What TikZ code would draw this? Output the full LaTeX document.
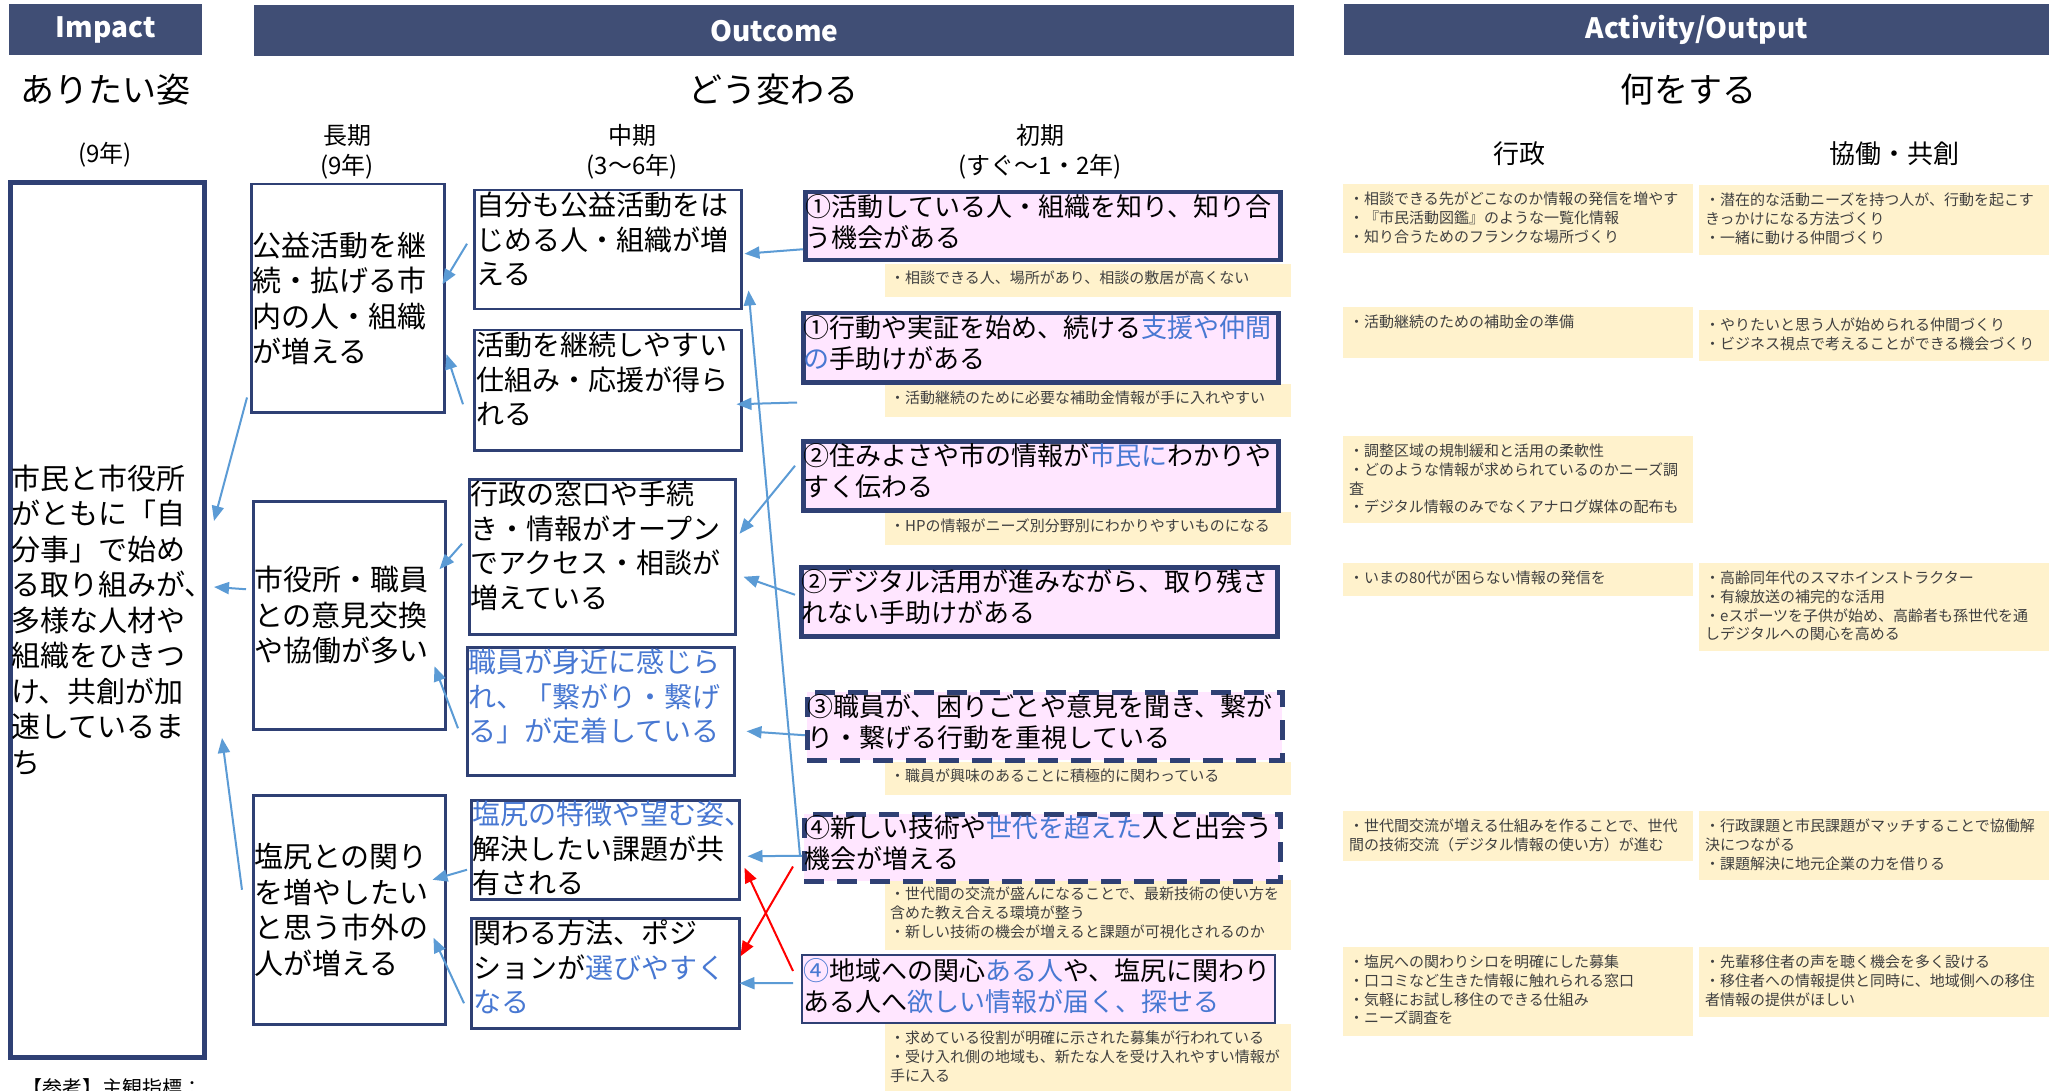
\documentclass[tikz,border=0pt]{standalone}
\usepackage{fontspec}
\setmainfont{Noto Sans CJK JP}
\usetikzlibrary{arrows.meta,calc}
\definecolor{navy}{RGB}{47,64,116}
\definecolor{barnavy}{RGB}{64,78,117}
\definecolor{pinkf}{RGB}{255,230,255}
\definecolor{yell}{RGB}{255,242,204}
\definecolor{tblue}{RGB}{72,120,210}
\definecolor{ablue}{RGB}{91,155,213}
\definecolor{ngray}{RGB}{64,64,64}
\tikzset{
  bar/.style={fill=barnavy, draw=none, text=white, inner sep=0pt, anchor=north west, font=\fontsize{28}{32}\selectfont\bfseries},
  hone/.style={font=\fontsize{34}{40}\selectfont, inner sep=0pt},
  htwo/.style={font=\fontsize{24}{30}\selectfont, inner sep=0pt, align=center},
  hthree/.style={font=\fontsize{26}{30}\selectfont, inner sep=0pt},
  impbox/.style={draw=navy, line width=5pt, inner sep=0pt, anchor=north west},
  lbox/.style={draw=navy, line width=2.5pt, inner sep=0pt, anchor=north west},
  sbox/.style={draw=navy, fill=pinkf, line width=4.5pt, inner sep=0pt, anchor=north west},
  sdash/.style={sbox, dash pattern=on 20pt off 13pt},
  sthin/.style={draw=navy, fill=pinkf, line width=2pt, inner sep=0pt, anchor=north west},
  ybox/.style={fill=yell, draw=none, inner sep=0pt, anchor=north west},
  ltxt/.style={font=\fontsize{29}{35.5}\selectfont, align=left, inner sep=0pt, anchor=west},
  mtxt/.style={font=\fontsize{28}{34.5}\selectfont, align=left, inner sep=0pt, anchor=north west},
  stxt/.style={font=\fontsize{26}{31.5}\selectfont, align=left, inner sep=0pt, anchor=north west},
  ntxt/.style={font=\fontsize{15}{18.7}\selectfont, text=ngray, align=left, inner sep=0pt, anchor=north west},
  arr/.style={draw=ablue, line width=2pt, -{Triangle[length=15pt,width=12pt]}},
  rarr/.style={draw=red, line width=2pt, -{Triangle[length=15pt,width=12pt]}},
}
\begin{document}
\begin{tikzpicture}[x=1pt, y=-1pt]
\useasboundingbox (0,0) rectangle (2062,1091);
\fill[white] (0,0) rectangle (2062,1091);

% header bars
\node[bar, minimum width=193pt, minimum height=51pt] (bimp) at (9,4) {Impact};
\node[bar, minimum width=1040pt, minimum height=51pt] (bout) at (254,5) {Outcome};
\node[bar, minimum width=705pt, minimum height=51pt] (bact) at (1344,4) {Activity/Output};

% headings
\node[hone] (t1) at (105,90) {ありたい姿};
\node[hone] (t2) at (773,90) {どう変わる};
\node[hone] (t3) at (1688,90) {何をする};
\node[htwo] (t4) at (105,155) {(9年)};
\node[htwo] (t5) at (347,152) {長期\\(9年)};
\node[htwo] (t6) at (632,152) {中期\\(3〜6年)};
\node[htwo] (t7) at (1040,152) {初期\\(すぐ〜1・2年)};
\node[hthree] (t8) at (1519,154) {行政};
\node[hthree] (t9) at (1894,154) {協働・共創};

% impact box
\node[impbox, minimum width=194pt, minimum height=875pt] (imp) at (8,180) {};
\node[ltxt] (impt) at ($(imp.west)+(3,0)$) {市民と市役所\\がともに「自\\分事」で始め\\る取り組みが、\\多様な人材や\\組織をひきつ\\け、共創が加\\速しているま\\ち};

% long-term
\node[lbox, minimum width=193pt, minimum height=228pt] (l1) at (250,183) {};
\node[ltxt] (l1t) at ($(l1.west)+(2,0)$) {公益活動を継\\続・拡げる市\\内の人・組織\\が増える};
\node[lbox, minimum width=192pt, minimum height=228pt] (l2) at (252,500) {};
\node[ltxt] (l2t) at ($(l2.west)+(2,0)$) {市役所・職員\\との意見交換\\や協働が多い};
\node[lbox, minimum width=192pt, minimum height=229pt] (l3) at (252,794) {};
\node[ltxt] (l3t) at ($(l3.west)+(2,0)$) {塩尻との関り\\を増やしたい\\と思う市外の\\人が増える};

% mid-term
\node[lbox, minimum width=267pt, minimum height=119pt] (m1) at (473,189) {};
\node[mtxt] (m1t) at ($(m1.north west)+(3,3)$) {自分も公益活動をは\\じめる人・組織が増\\える};
\node[lbox, minimum width=267pt, minimum height=120pt] (m2) at (473,329) {};
\node[mtxt] (m2t) at ($(m2.north west)+(3,3)$) {活動を継続しやすい\\仕組み・応援が得ら\\れる};
\node[lbox, minimum width=266pt, minimum height=155pt] (m3) at (468,478) {};
\node[mtxt] (m3t) at ($(m3.north west)+(2,3)$) {行政の窓口や手続\\き・情報がオープン\\でアクセス・相談が\\増えている};
\node[lbox, minimum width=267pt, minimum height=128pt] (m4) at (466,646) {};
\node[mtxt, text=tblue] (m4t) at ($(m4.north west)+(2,3)$) {職員が身近に感じら\\れ、「繋がり・繋げ\\る」が定着している};
\node[lbox, minimum width=268pt, minimum height=99pt] (m5) at (470,799) {};
\node[mtxt] (m5t) at ($(m5.north west)+(2,2)$) {\textcolor{tblue}{塩尻の特徴や望む姿、}\\解決したい課題が共\\有される};
\node[lbox, minimum width=268pt, minimum height=110pt] (m6) at (470,917) {};
\node[mtxt] (m6t) at ($(m6.north west)+(3,3)$) {関わる方法、ポジ\\ションが\textcolor{tblue}{選びやすく}\\\textcolor{tblue}{なる}};

% notes (yellow)
\node[ybox, minimum width=406pt, minimum height=33pt] (n1) at (885,264) {};
\node[ntxt] (n1t) at ($(n1.north west)+(5,7)$) {・相談できる人、場所があり、相談の敷居が高くない};
\node[ybox, minimum width=406pt, minimum height=33pt] (n2) at (885,384) {};
\node[ntxt] (n2t) at ($(n2.north west)+(5,7)$) {・活動継続のために必要な補助金情報が手に入れやすい};
\node[ybox, minimum width=406pt, minimum height=33pt] (n3) at (885,512) {};
\node[ntxt] (n3t) at ($(n3.north west)+(5,7)$) {・HPの情報がニーズ別分野別にわかりやすいものになる};
\node[ybox, minimum width=406pt, minimum height=33pt] (n5) at (885,762) {};
\node[ntxt] (n5t) at ($(n5.north west)+(5,7)$) {・職員が興味のあることに積極的に関わっている};
\node[ybox, minimum width=406pt, minimum height=70pt] (n6) at (885,880) {};
\node[ntxt] (n6t) at ($(n6.north west)+(5,7)$) {・世代間の交流が盛んになることで、最新技術の使い方を\\含めた教え合える環境が整う\\・新しい技術の機会が増えると課題が可視化されるのか};
\node[ybox, minimum width=406pt, minimum height=70pt] (n7) at (885,1024) {};
\node[ntxt] (n7t) at ($(n7.north west)+(5,7)$) {・求めている役割が明確に示された募集が行われている\\・受け入れ側の地域も、新たな人を受け入れやすい情報が\\手に入る};

% short-term
\node[sbox, minimum width=475pt, minimum height=68pt] (s1) at (803,190) {};
\node[stxt] (s1t) at ($(s1.north west)+(2,4)$) {①活動している人・組織を知り、知り合\\う機会がある};
\node[sbox, minimum width=475pt, minimum height=69pt] (s2) at (801,311) {};
\node[stxt] (s2t) at ($(s2.north west)+(2,4)$) {①行動や実証を始め、続ける\textcolor{tblue}{支援や仲間}\\\textcolor{tblue}{の}手助けがある};
\node[sbox, minimum width=475pt, minimum height=69pt] (s3) at (801,439) {};
\node[stxt] (s3t) at ($(s3.north west)+(2,4)$) {②住みよさや市の情報が\textcolor{tblue}{市民に}わかりや\\すく伝わる};
\node[sbox, minimum width=476pt, minimum height=69pt] (s4) at (799,565) {};
\node[stxt] (s4t) at ($(s4.north west)+(2,4)$) {②デジタル活用が進みながら、取り残さ\\れない手助けがある};
\node[sdash, minimum width=475pt, minimum height=68pt] (s5) at (805,690) {};
\node[stxt] (s5t) at ($(s5.north west)+(2,4)$) {③職員が、困りごとや意見を聞き、繋が\\り・繋げる行動を重視している};
\node[sdash, minimum width=476pt, minimum height=67pt] (s6) at (802,812) {};
\node[stxt] (s6t) at ($(s6.north west)+(2,3)$) {④新しい技術や\textcolor{tblue}{世代を超えた}人と出会う\\機会が増える};
\node[sthin, minimum width=473pt, minimum height=68pt] (s7) at (801,954) {};
\node[stxt] (s7t) at ($(s7.north west)+(2,4)$) {\textcolor{tblue}{④}地域への関心\textcolor{tblue}{ある人}や、塩尻に関わり\\ある人へ\textcolor{tblue}{欲しい情報が届く、探せる}};

% activity: gyousei
\node[ybox, minimum width=350pt, minimum height=69pt] (a1) at (1343,184) {};
\node[ntxt] (a1t) at ($(a1.north west)+(6,8)$) {・相談できる先がどこなのか情報の発信を増やす\\・『市民活動図鑑』のような一覧化情報\\・知り合うためのフランクな場所づくり};
\node[ybox, minimum width=350pt, minimum height=51pt] (a2) at (1343,307) {};
\node[ntxt] (a2t) at ($(a2.north west)+(6,8)$) {・活動継続のための補助金の準備};
\node[ybox, minimum width=350pt, minimum height=87pt] (a3) at (1343,436) {};
\node[ntxt] (a3t) at ($(a3.north west)+(6,8)$) {・調整区域の規制緩和と活用の柔軟性\\・どのような情報が求められているのかニーズ調\\査\\・デジタル情報のみでなくアナログ媒体の配布も};
\node[ybox, minimum width=350pt, minimum height=33pt] (a4) at (1343,563) {};
\node[ntxt] (a4t) at ($(a4.north west)+(6,8)$) {・いまの80代が困らない情報の発信を};
\node[ybox, minimum width=350pt, minimum height=50pt] (a5) at (1343,811) {};
\node[ntxt] (a5t) at ($(a5.north west)+(6,8)$) {・世代間交流が増える仕組みを作ることで、世代\\間の技術交流（デジタル情報の使い方）が進む};
\node[ybox, minimum width=350pt, minimum height=89pt] (a6) at (1343,947) {};
\node[ntxt] (a6t) at ($(a6.north west)+(6,8)$) {・塩尻への関わりシロを明確にした募集\\・口コミなど生きた情報に触れられる窓口\\・気軽にお試し移住のできる仕組み\\・ニーズ調査を};

% activity: kyoudou
\node[ybox, minimum width=350pt, minimum height=70pt] (b1) at (1699,185) {};
\node[ntxt] (b1t) at ($(b1.north west)+(6,8)$) {・潜在的な活動ニーズを持つ人が、行動を起こす\\きっかけになる方法づくり\\・一緒に動ける仲間づくり};
\node[ybox, minimum width=350pt, minimum height=51pt] (b2) at (1699,310) {};
\node[ntxt] (b2t) at ($(b2.north west)+(6,8)$) {・やりたいと思う人が始められる仲間づくり\\・ビジネス視点で考えることができる機会づくり};
\node[ybox, minimum width=350pt, minimum height=88pt] (b4) at (1699,563) {};
\node[ntxt] (b4t) at ($(b4.north west)+(6,8)$) {・高齢同年代のスマホインストラクター\\・有線放送の補完的な活用\\・eスポーツを子供が始め、高齢者も孫世代を通\\しデジタルへの関心を高める};
\node[ybox, minimum width=350pt, minimum height=69pt] (b5) at (1699,811) {};
\node[ntxt] (b5t) at ($(b5.north west)+(6,8)$) {・行政課題と市民課題がマッチすることで協働解\\決につながる\\・課題解決に地元企業の力を借りる};
\node[ybox, minimum width=350pt, minimum height=70pt] (b6) at (1699,947) {};
\node[ntxt] (b6t) at ($(b6.north west)+(6,8)$) {・先輩移住者の声を聴く機会を多く設ける\\・移住者への情報提供と同時に、地域側への移住\\者情報の提供がほしい};

% reference note at bottom
\node[font=\fontsize{20}{24}\selectfont, inner sep=0pt, anchor=north west] (refn) at (22,1078) {【参考】主観指標：};

% connectors short -> mid
\draw[arr] ($(s1.west)+(0,23)$) -- ($(m1.east)+(2,4)$);
\draw[arr] ($(s2.south west)+(-4,18)$) -- ($(m2.east)+(-6,14)$);
\draw[arr] ($(s3.west)+(-6,-10)$) -- ($(m3.east)+(3,-23)$);
\draw[arr] ($(s4.west)+(-4,-7)$) -- ($(m3.east)+(7,20)$);
\draw[arr] ($(s6.west)+(-2,8)$) -- ($(m1.south east)+(6,-20)$);
\draw[arr] ($(s5.west)+(0,9)$) -- ($(m4.east)+(11,20)$);
\draw[arr] ($(s6.west)+(0,8)$) -- ($(m5.east)+(7,6.5)$);
\draw[arr] ($(s7.west)+(-8,-6)$) -- ($(m6.east)+(-1,10)$);
\draw[rarr] ($(s6.south west)+(-9,-17)$) -- ($(m6.east)+(0,-17)$);
\draw[rarr] ($(s7.west)+(-8,-18)$) -- ($(m5.east)+(4,18)$);

% mid -> long
\draw[arr] ($(m1.west)+(-6,-6)$) -- ($(l1.east)+(-3,-14)$);
\draw[arr] ($(m2.west)+(-10,14)$) -- ($(l1.east)+(1,56)$);
\draw[arr] ($(m3.west)+(-6,-13)$) -- ($(l2.east)+(-7,-46)$);
\draw[arr] ($(m4.west)+(-8,17)$) -- ($(l2.east)+(-12,51)$);
\draw[arr] ($(m5.west)+(-3,20)$) -- ($(l3.east)+(-14,-30)$);
\draw[arr] ($(m6.west)+(-6,30)$) -- ($(l3.east)+(-13,28)$);

% long -> impact
\draw[arr] ($(l1.south west)+(-3,-16)$) -- ($(imp.east)+(7,-99)$);
\draw[arr] ($(l2.west)+(-6,-26)$) -- ($(imp.east)+(7,-33)$);
\draw[arr] ($(l3.west)+(-10,-20)$) -- ($(imp.east)+(15,118)$);
\end{tikzpicture}
\end{document}
